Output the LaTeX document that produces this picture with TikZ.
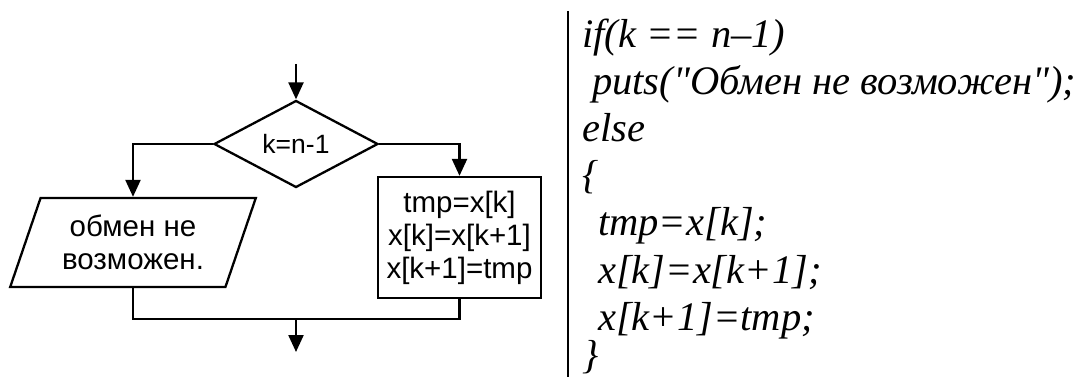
\documentclass[tikz,border=0pt]{standalone}
\usepackage{fontspec}
\setmainfont{Liberation Serif}
\newfontfamily\chartfont{Liberation Sans}
\usetikzlibrary{arrows.meta, positioning, shapes.geometric}

\tikzset{
  chart/.style={draw, line width=2.3pt, align=center, inner sep=0pt,
    font=\chartfont\fontsize{29.5}{33}\selectfont},
  flow/.style={line width=2.3pt, -{Triangle[length=17pt,width=15pt]}},
  link/.style={line width=2.3pt},
  codeline/.style={anchor=base west, inner sep=0pt,
    font=\itshape\fontsize{40.5}{47}\selectfont},
}

\begin{document}
\begin{tikzpicture}[x=1pt,y=-1pt]
  \useasboundingbox (0,0) rectangle (1085,377);
  % flowchart
  \coordinate (start) at (296,64);
  \node[chart, diamond, minimum width=164pt, minimum height=87pt,
    font=\chartfont\fontsize{26.5}{30}\selectfont] (cond) at (296,144) {k=n-1};
  \node[chart, trapezium, trapezium left angle=67, trapezium right angle=113,
    trapezium stretches=true, minimum width=246pt, minimum height=89pt]
    (msg) at (133,242.5) {обмен не\\возможен.};
  \node[chart, rectangle, minimum width=163pt, minimum height=121pt]
    (swap) at (459.5,237.5) {tmp=x[k]\\x[k]=x[k+1]\\x[k+1]=tmp};
  \coordinate (merge) at (296,319);
  \coordinate (stop) at (296,352);
  \draw[flow] (start) -- (cond.north);
  \draw[flow] (cond.west) -| (msg.center |- msg.north);
  \draw[flow] (cond.east) -| (swap.north);
  \draw[link] (msg.center |- msg.south) |- (swap.south |- merge) -- (swap.south);
  \draw[flow] (merge) -- (stop);
  % code
  \coordinate (ruletop) at (568,11);
  \coordinate (rulebot) at (568,377);
  \draw[link] (ruletop) -- (rulebot);
  \node[codeline] (c1) at (582,48) {if(k == n–1)};
  \node[codeline] (c2) at (592,95) {puts(\textquotedbl Обмен не возможен\textquotedbl);};
  \node[codeline] (c3) at (582,142) {else};
  \node[codeline] (c4) at (582,189) {\{};
  \node[codeline] (c5) at (598,236) {tmp=x[k];};
  \node[codeline] (c6) at (598,283) {x[k]=x[k+1];};
  \node[codeline] (c7) at (598,330) {x[k+1]=tmp;};
  \node[codeline] (c8) at (582,368) {\}};
\end{tikzpicture}
\end{document}
